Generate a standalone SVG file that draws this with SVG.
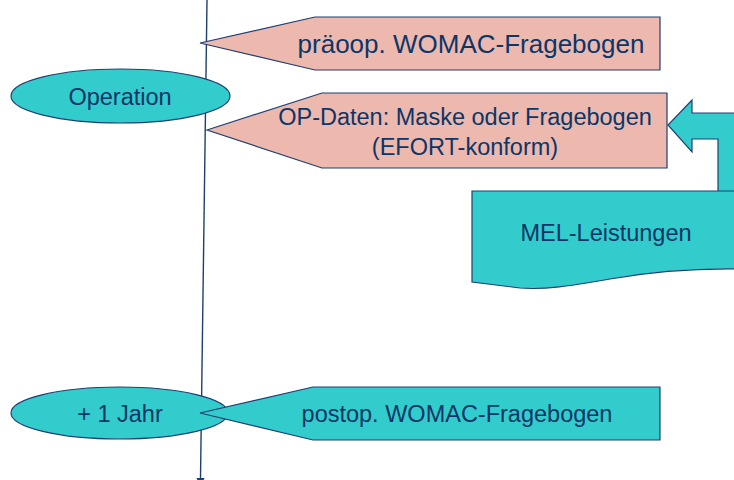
<svg xmlns="http://www.w3.org/2000/svg" width="734" height="480" viewBox="0 0 734 480">
  <style>
    .teal { fill: #33CCCC; stroke: #1F3F73; stroke-width: 1.2; }
    .pink { fill: #EDB8AE; stroke: #1F3F73; stroke-width: 1.2; }
    .label { font-family: "Liberation Sans", Arial, sans-serif; font-size: 23.5px; fill: #0B3668; text-anchor: middle; }
    .big { font-size: 26px; }
    .axis { stroke: #1F3F73; stroke-width: 1.4; fill: none; }
  </style>

  <!-- timeline axis -->
  <g id="connectors">
    <line class="axis" x1="207" y1="0" x2="200.5" y2="478"/>
    <polygon points="196.5,478 204.5,478 200.5,488" fill="#1F3F73"/>
    <!-- bent block arrow feeding the OP data callout -->
    <path class="teal" d="M745,113 L692,113 L692,100 L668,125 L692,152 L692,139 L718,139 L718,196 L745,196 Z"/>
  </g>

  <g id="operation">
    <ellipse class="teal" cx="120.5" cy="96" rx="109.5" ry="27"/>
    <text class="label" x="120" y="105">Operation</text>
  </g>

  <g id="jahr">
    <ellipse class="teal" cx="119.5" cy="413" rx="108.5" ry="26"/>
    <text class="label" x="120" y="422">+ 1 Jahr</text>
  </g>

  <g id="praeoop">
    <polygon class="pink" points="200,43 315,17 660,17 660,70 315,70"/>
    <text class="label big" x="471" y="53">präoop. WOMAC-Fragebogen</text>
  </g>

  <g id="opdaten">
    <polygon class="pink" points="207,130 322,93 667,93 667,168 322,168"/>
    <text class="label" x="465" y="125">OP-Daten: Maske oder Fragebogen</text>
    <text class="label" x="465" y="155">(EFORT-konform)</text>
  </g>

  <g id="mel">
    <path class="teal" d="M472,191 L745,191 L745,269 C700,268 660,270 610,279 C570,286 545,290 520,288 L472,282 Z"/>
    <text class="label" x="606" y="241">MEL-Leistungen</text>
  </g>

  <g id="postop">
    <polygon class="teal" points="200,413 313,387 660,387 660,440 313,440"/>
    <text class="label" x="457" y="422">postop. WOMAC-Fragebogen</text>
  </g>
</svg>
